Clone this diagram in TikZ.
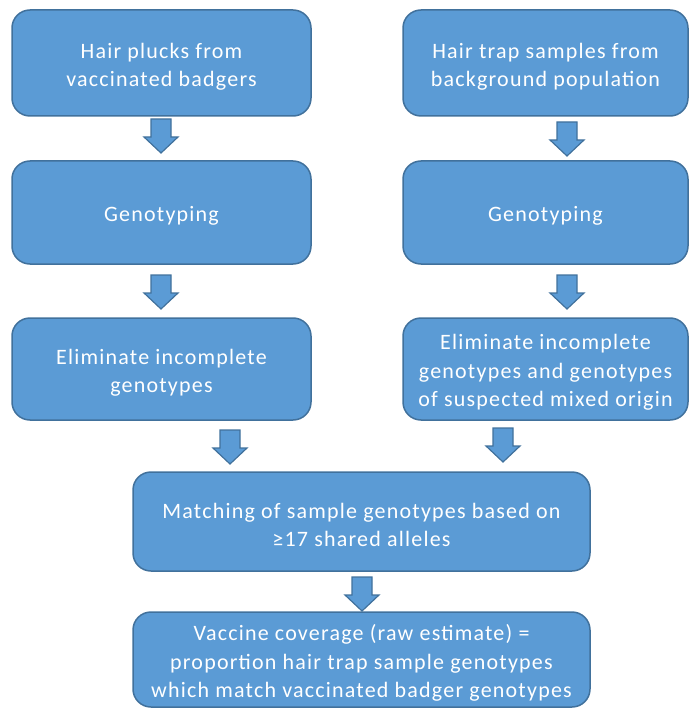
\documentclass[tikz,border=0pt]{standalone}
\usepackage{fontspec}
\setmainfont[LetterSpace=5.5]{Carlito}
\definecolor{boxfill}{HTML}{5B9BD5}
\definecolor{boxline}{HTML}{41719C}
\newcommand{\barrow}[2]{%
  \draw[blockarrow] (#1-10,#2) -- (#1+10,#2) -- (#1+10,#2+18) -- (#1+17,#2+18)
    -- (#1,#2+34) -- (#1-17,#2+18) -- (#1-10,#2+18) -- cycle;}
\begin{document}
\begin{tikzpicture}[x=1pt,y=-1pt,
  flowbox/.style={draw=boxline, line width=1.5pt, fill=boxfill, rounded corners=18pt,
    inner sep=0pt},
  boxtext/.style={text=white, align=center, inner sep=0pt, yshift=-3.5pt,
    font=\fontsize{22}{28.3}\selectfont},
  blockarrow/.style={draw=boxline, line width=1.2pt, fill=boxfill, line join=miter}]
\useasboundingbox (0,0) rectangle (694,711);
\node[flowbox, minimum width=299pt, minimum height=106pt,
  label={[boxtext]center:{Hair plucks from\\vaccinated badgers}}] (l1) at (161.5,63) {};
\node[flowbox, minimum width=285pt, minimum height=106pt,
  label={[boxtext]center:{Hair trap samples from\\background population}}] (r1) at (545.5,63) {};
\node[flowbox, minimum width=299pt, minimum height=103pt,
  label={[boxtext]center:{Genotyping}}] (l2) at (161.5,212.5) {};
\node[flowbox, minimum width=285pt, minimum height=103pt,
  label={[boxtext]center:{Genotyping}}] (r2) at (545.5,212.5) {};
\node[flowbox, minimum width=299pt, minimum height=102pt,
  label={[boxtext]center:{Eliminate incomplete\\genotypes}}] (l3) at (161.5,369) {};
\node[flowbox, minimum width=285pt, minimum height=102pt,
  label={[boxtext]center:{Eliminate incomplete\\genotypes and genotypes\\of suspected mixed origin}}] (r3) at (545.5,369) {};
\node[flowbox, minimum width=457pt, minimum height=99pt,
  label={[boxtext]center:{Matching of sample genotypes based on\\≥17 shared alleles}}] (m) at (361.5,521.5) {};
\node[flowbox, minimum width=457pt, minimum height=95pt,
  label={[boxtext]center:{Vaccine coverage (raw estimate) =\\proportion hair trap sample genotypes\\which match vaccinated badger genotypes}}] (b) at (361.5,659.5) {};
\barrow{161}{119}
\barrow{567}{122}
\barrow{161}{275}
\barrow{567}{275}
\barrow{230}{430}
\barrow{503}{428}
\barrow{362}{577}
\end{tikzpicture}
\end{document}
